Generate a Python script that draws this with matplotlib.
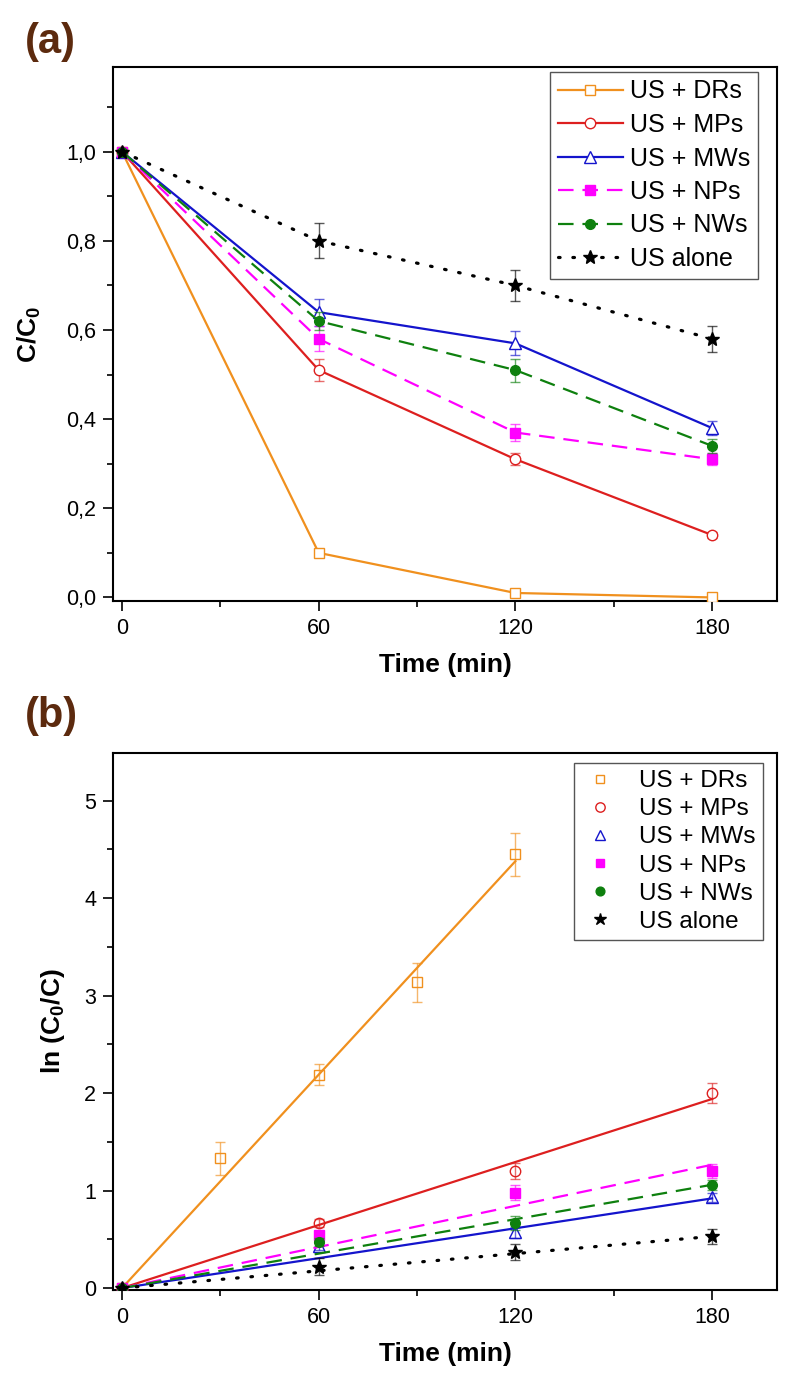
import matplotlib
matplotlib.use("Agg")
import matplotlib.pyplot as plt
from matplotlib.lines import Line2D
from matplotlib.ticker import MultipleLocator, FuncFormatter

plt.rcParams["font.family"] = ["Liberation Sans", "DejaVu Sans"]
plt.rcParams["mathtext.fontset"] = "custom"
plt.rcParams["mathtext.rm"] = "Liberation Sans:bold"
plt.rcParams["mathtext.default"] = "rm"

# series names
labels = ["US + DRs", "US + MPs", "US + MWs", "US + NPs", "US + NWs", "US alone"]

# panel (a): C/C0 vs time
time_a = [0, 60, 120, 180]
drs_a = [1.0, 0.10, 0.01, 0.0]
mps_a = [1.0, 0.51, 0.31, 0.14]
mws_a = [1.0, 0.64, 0.57, 0.38]
nps_a = [1.0, 0.58, 0.37, 0.31]
nws_a = [1.0, 0.62, 0.51, 0.34]
alone_a = [1.0, 0.80, 0.70, 0.58]
drs_a_err = [0, 0.008, 0.008, 0.004]
mps_a_err = [0, 0.025, 0.014, 0.007]
mws_a_err = [0, 0.03, 0.027, 0.016]
nps_a_err = [0, 0.028, 0.018, 0.014]
nws_a_err = [0, 0.02, 0.026, 0.016]
alone_a_err = [0, 0.039, 0.034, 0.029]

# panel (b): ln(C0/C) vs time, with linear fits
time_drs_b = [0, 30, 60, 90, 120]
drs_b = [0, 1.33, 2.19, 3.14, 4.45]
drs_b_err = [0, 0.165, 0.11, 0.2, 0.22]
time_b = [0, 60, 120, 180]
mps_b = [0, 0.67, 1.2, 2.0]
mws_b = [0, 0.43, 0.57, 0.93]
nps_b = [0, 0.54, 0.98, 1.2]
nws_b = [0, 0.47, 0.67, 1.06]
alone_b = [0, 0.22, 0.37, 0.53]
mps_b_err = [0, 0.04, 0.08, 0.1]
mws_b_err = [0, 0.04, 0.06, 0.05]
nps_b_err = [0, 0.05, 0.08, 0.07]
nws_b_err = [0, 0.04, 0.07, 0.05]
alone_b_err = [0, 0.09, 0.08, 0.08]
fit_end_time = [120, 180, 180, 180, 180, 180]
fit_end_value = [4.38, 1.94, 0.92, 1.265, 1.06, 0.53]

colors = ["#F0901E", "#DD1F1F", "#1414CC", "#FF00FF", "#0E800E", "#000000"]
markers = ["s", "o", "^", "s", "o", "*"]
faces = ["white", "white", "white", "#FF00FF", "#0E800E", "#000000"]
msizes = [6.5, 7.5, 8, 6.5, 7, 10]
dash_solid = "-"
dash_dash = (0, (7, 4))
dot = (0, (0.5, 4))
styles = [dash_solid, dash_solid, dash_solid, dash_dash, dash_dash, dot]
widths = [1.6, 1.6, 1.6, 1.6, 1.6, 2.3]


def line_style(i):
    kw = dict(color=colors[i], linestyle=styles[i], lw=widths[i])
    if i == 5:
        kw["dash_capstyle"] = "round"
    return kw


fig = plt.figure(figsize=(8, 13.92), dpi=100)
W, H = 800, 1392
ax1 = fig.add_axes([113 / W, 1 - 601 / H, 664 / W, 534 / H])
ax2 = fig.add_axes([113 / W, 1 - 1290 / H, 664 / W, 537 / H])

# ---- panel (a)
ys_a = [drs_a, mps_a, mws_a, nps_a, nws_a, alone_a]
errs_a = [drs_a_err, mps_a_err, mws_a_err, nps_a_err, nws_a_err, alone_a_err]
handles_a = []
for i in range(6):
    ax1.errorbar(time_a, ys_a[i], yerr=errs_a[i], fmt="none", ecolor=colors[i],
                 alpha=0.65, elinewidth=1, capsize=3.5, capthick=1, zorder=2 + i)
    ln, = ax1.plot(time_a, ys_a[i], marker=markers[i], markersize=msizes[i],
                   markerfacecolor=faces[i], markeredgecolor=colors[i],
                   markeredgewidth=1, label=labels[i], zorder=3 + i, **line_style(i))
    handles_a.append(ln)

ax1.set_xlim(-2.75, 199.8)
ax1.set_ylim(-0.008, 1.19)
ax1.yaxis.set_major_locator(MultipleLocator(0.2))
ax1.yaxis.set_minor_locator(MultipleLocator(0.1))
ax1.yaxis.set_major_formatter(FuncFormatter(lambda v, p: f"{v:.1f}".replace(".", ",")))
ax1.set_ylabel("C/C$_0$", fontsize=19, fontweight="bold")
ax1.yaxis.set_label_coords(-0.105, 0.5)
ax1.legend(handles=handles_a, loc="upper right", bbox_to_anchor=(758 / W, 1 - 72 / H),
           bbox_transform=fig.transFigure, borderaxespad=0, fontsize=18,
           fancybox=False, edgecolor="#555555", framealpha=1, labelspacing=0.38,
           handlelength=2.6, handletextpad=0.3, borderpad=0.3)

# ---- panel (b)
xs_b = [time_drs_b, time_b, time_b, time_b, time_b, time_b]
ys_b = [drs_b, mps_b, mws_b, nps_b, nws_b, alone_b]
errs_b = [drs_b_err, mps_b_err, mws_b_err, nps_b_err, nws_b_err, alone_b_err]
handles_b = []
for i in range(6):
    ax2.plot([0, fit_end_time[i]], [0, fit_end_value[i]], zorder=2 + i, **line_style(i))
    ax2.errorbar(xs_b[i], ys_b[i], yerr=errs_b[i], fmt="none", ecolor=colors[i],
                 alpha=0.65, elinewidth=1, capsize=3.5, capthick=1, zorder=2 + i)
    ax2.plot(xs_b[i], ys_b[i], linestyle="none", marker=markers[i],
             markersize=msizes[i], markerfacecolor="none" if faces[i] == "white" else faces[i],
             markeredgecolor=colors[i], markeredgewidth=1, zorder=3 + i)
    handles_b.append(Line2D([], [], linestyle="none", marker=markers[i],
                            markersize=msizes[i] * 0.9,
                            markerfacecolor="white" if faces[i] == "white" else faces[i],
                            markeredgecolor=colors[i], markeredgewidth=1, label=labels[i]))

ax2.set_xlim(-2.75, 199.8)
ax2.set_ylim(-0.02, 5.49)
ax2.yaxis.set_major_locator(MultipleLocator(1))
ax2.yaxis.set_minor_locator(MultipleLocator(0.5))
ax2.set_ylabel("ln (C$_0$/C)", fontsize=19, fontweight="bold")
ax2.yaxis.set_label_coords(-0.069, 0.5)
ax2.legend(handles=handles_b, loc="upper right", bbox_to_anchor=(763 / W, 1 - 763 / H),
           bbox_transform=fig.transFigure, borderaxespad=0, fontsize=17.5,
           fancybox=False, edgecolor="#555555", framealpha=1, labelspacing=0.25,
           handlelength=1.6, handletextpad=0.8, borderpad=0.3)

for ax in (ax1, ax2):
    ax.xaxis.set_major_locator(MultipleLocator(60))
    ax.xaxis.set_minor_locator(MultipleLocator(30))
    ax.set_xlabel("Time (min)", fontsize=19, fontweight="bold", labelpad=10)
    ax.tick_params(which="major", direction="out", length=7, width=1.2,
                   labelsize=15.5, pad=5, top=False, right=False)
    ax.tick_params(which="minor", direction="out", length=4.5, width=1.2,
                   top=False, right=False)
    for s in ax.spines.values():
        s.set_linewidth(1.5)

fig.text(25 / W, 1 - 42 / H, "(a)", fontsize=30, fontweight="bold",
         color="#5C2A0E", ha="left", va="center")
fig.text(25 / W, 1 - 716 / H, "(b)", fontsize=30, fontweight="bold",
         color="#5C2A0E", ha="left", va="center")

fig.savefig("out.png", dpi=100)
